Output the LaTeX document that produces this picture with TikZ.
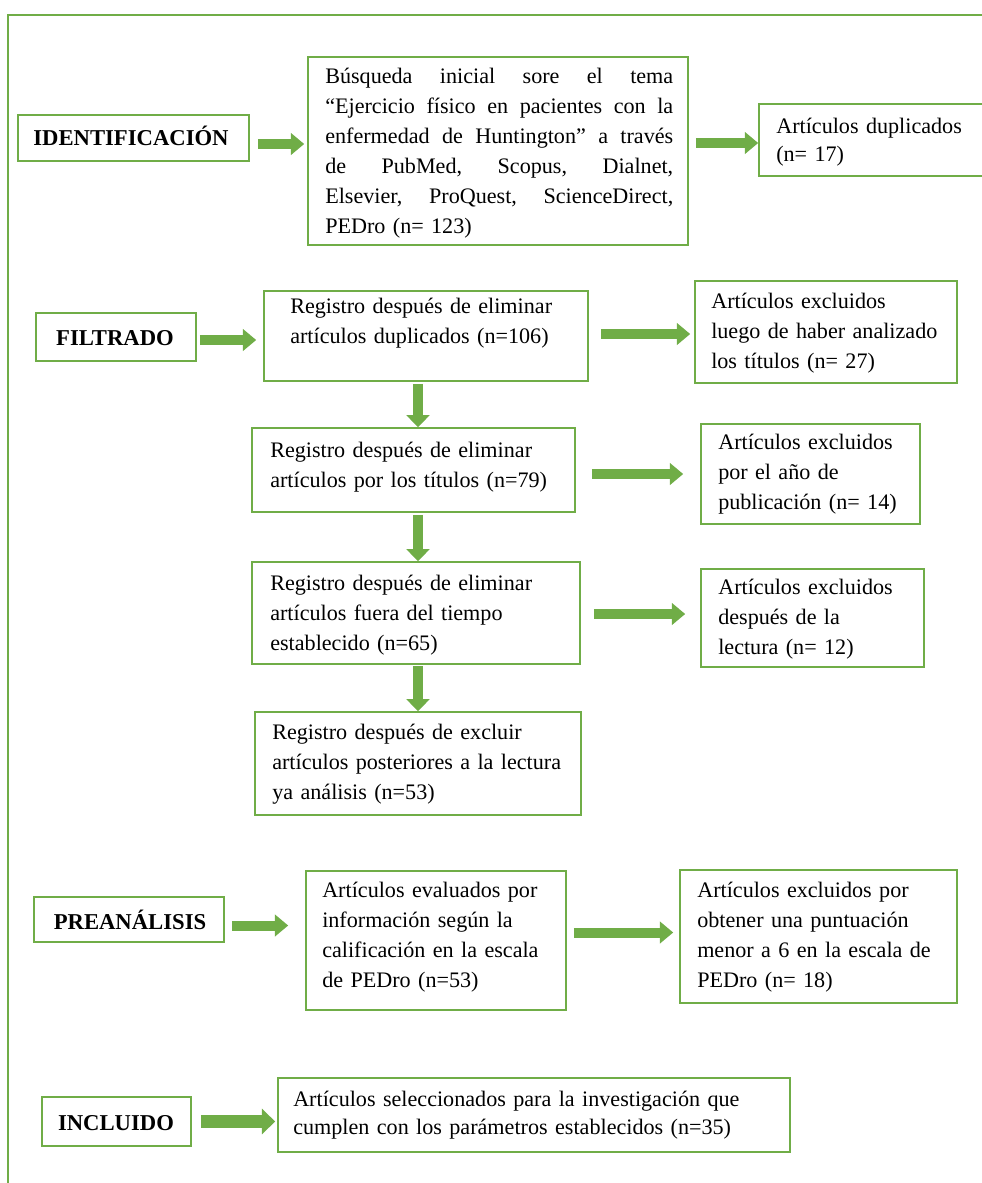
\documentclass[tikz,border=0pt]{standalone}
\usepackage{fontspec}
\setmainfont{Liberation Serif}
\usetikzlibrary{arrows.meta,fit}
\definecolor{gr}{HTML}{70AD47}
\begin{document}
\begin{tikzpicture}[x=0.75pt,y=-0.75pt,
  box/.style={draw=gr, line width=1.2pt, inner sep=0pt, rectangle},
  lab/.style={anchor=base, inner sep=0pt, font=\fontsize{17}{22.5}\selectfont\bfseries},
  txt/.style={anchor=base west, inner sep=0pt, align=left, text width=400pt, font=\fontsize{16.6}{22.5}\selectfont},
  harrow/.style={draw=gr, line width=7.5pt, -{Triangle[length=10pt,width=16pt]}},
  varrow/.style={draw=gr, line width=7.5pt, -{Triangle[length=9pt,width=17pt]}}
]
\useasboundingbox (0,0) rectangle (982,1183);
% outer frame
\draw[gr, line width=1.2pt] (8,1200) -- (8,15) -- (1000,15);

% boxes
\node[box, fit={(18,115)(249,161)}] (ident) {};
\node[box, fit={(308,57)(688,245)}] (busq) {};
\node[box, fit={(759,104)(1000,176)}] (dup) {};
\node[box, fit={(36,313)(196,361)}] (filt) {};
\node[box, fit={(264,291)(588,381)}] (reg1) {};
\node[box, fit={(695,281)(957,383)}] (exc1) {};
\node[box, fit={(252,428)(575,512)}] (reg2) {};
\node[box, fit={(701,424)(920,524)}] (exc2) {};
\node[box, fit={(252,562)(580,664)}] (reg3) {};
\node[box, fit={(701,569)(924,667)}] (exc3) {};
\node[box, fit={(255,712)(581,815)}] (reg4) {};
\node[box, fit={(34,897)(224,942)}] (prea) {};
\node[box, fit={(306,871)(566,1010)}] (eval) {};
\node[box, fit={(680,870)(957,1003)}] (exc4) {};
\node[box, fit={(42,1097)(191,1146)}] (incl) {};
\node[box, fit={(278,1078)(790,1152)}] (sel) {};

% stage labels
\node[lab] (lident) at (131,145) {IDENTIFICACIÓN};
\node[lab] (lfilt) at (115,345) {FILTRADO};
\node[lab] (lprea) at (130,929) {PREANÁLISIS};
\node[lab] (lincl) at (116,1130) {INCLUIDO};

% texts
\node[txt, text width=261pt] (tbusq) at (325,83) {%
\makebox[261pt]{Búsqueda\hfill inicial\hfill sore\hfill el\hfill tema}\\
\makebox[261pt]{“Ejercicio\hfill físico\hfill en\hfill pacientes\hfill con\hfill la}\\
\makebox[261pt]{enfermedad\hfill de\hfill Huntington”\hfill a\hfill través}\\
\makebox[261pt]{de\hfill PubMed,\hfill Scopus,\hfill Dialnet,}\\
\makebox[261pt]{Elsevier,\hfill ProQuest,\hfill ScienceDirect,}\\
PEDro (n= 123)};
\node[txt, font=\fontsize{16.6}{21}\selectfont] (tdup) at (776,133) {Artículos duplicados\\(n= 17)};
\node[txt] (treg1) at (290,313) {Registro después de eliminar\\artículos duplicados (n=106)};
\node[txt] (texc1) at (711,308) {Artículos excluidos\\luego de haber analizado\\los títulos (n= 27)};
\node[txt] (treg2) at (270,457) {Registro después de eliminar\\artículos por los títulos (n=79)};
\node[txt] (texc2) at (718,449) {Artículos excluidos\\por el año de\\publicación (n= 14)};
\node[txt] (treg3) at (270,590) {Registro después de eliminar\\artículos fuera del tiempo\\establecido (n=65)};
\node[txt] (texc3) at (718,594) {Artículos excluidos\\después de la\\lectura (n= 12)};
\node[txt] (treg4) at (272,739) {Registro después de excluir\\artículos posteriores a la lectura\\ya análisis (n=53)};
\node[txt] (teval) at (322,897) {Artículos evaluados por\\información según la\\calificación en la escala\\de PEDro (n=53)};
\node[txt] (texc4) at (697,897) {Artículos excluidos por\\obtener una puntuación\\menor a 6 en la escala de\\PEDro (n= 18)};
\node[txt, font=\fontsize{16.6}{21}\selectfont] (tsel) at (293,1106) {Artículos seleccionados para la investigación que\\cumplen con los parámetros establecidos (n=35)};

% arrow start coordinates
\coordinate (s1) at ([yshift=-4.5pt]ident.east);
\coordinate (s2) at ([yshift=-2.25pt]dup.west -| busq.east);
\coordinate (s3) at ([yshift=-2.25pt]filt.east);
\coordinate (s4) at ([yshift=1.5pt]reg1.east);
\coordinate (s5) at ([yshift=-3pt]reg2.east);
\coordinate (s6) at ([yshift=-0.75pt]reg3.east);
\coordinate (s7) at ([yshift=-4.5pt]prea.east);
\coordinate (s8) at ([yshift=6pt]eval.east);
\coordinate (s9) at (incl.east);
\coordinate (d1) at ([xshift=-6pt]reg1.south);
\coordinate (d2) at ([xshift=3.375pt]reg2.south);
\coordinate (d3) at ([xshift=1.5pt]reg3.south);

\draw[harrow, shorten <=6pt, shorten >=2.25pt] (s1) -- (s1 -| busq.west);
\draw[harrow, shorten <=5.25pt] (s2) -- (s2 -| dup.west);
\draw[harrow, shorten <=2.25pt, shorten >=5.25pt] (s3) -- (s3 -| reg1.west);
\draw[harrow, shorten <=9pt, shorten >=3pt] (s4) -- (s4 -| exc1.west);
\draw[harrow, shorten <=12pt, shorten >=12.75pt] (s5) -- (s5 -| exc2.west);
\draw[harrow, shorten <=9.75pt, shorten >=11.25pt] (s6) -- (s6 -| exc3.west);
\draw[harrow, shorten <=5.25pt, shorten >=12.75pt] (s7) -- (s7 -| eval.west);
\draw[harrow, shorten <=5.25pt, shorten >=4.5pt] (s8) -- (s8 -| exc4.west);
\draw[harrow, line width=9.75pt, -{Triangle[length=10pt,width=18.75pt]}, shorten <=6.75pt, shorten >=1.5pt] (s9) -- (s9 -| sel.west);
\draw[varrow, shorten <=1.5pt] (d1) -- (d1 |- reg2.north);
\draw[varrow, shorten <=1.5pt] (d2) -- (d2 |- reg3.north);
\draw[varrow, shorten <=1pt] (d3) -- (d3 |- reg4.north);
\end{tikzpicture}
\end{document}
